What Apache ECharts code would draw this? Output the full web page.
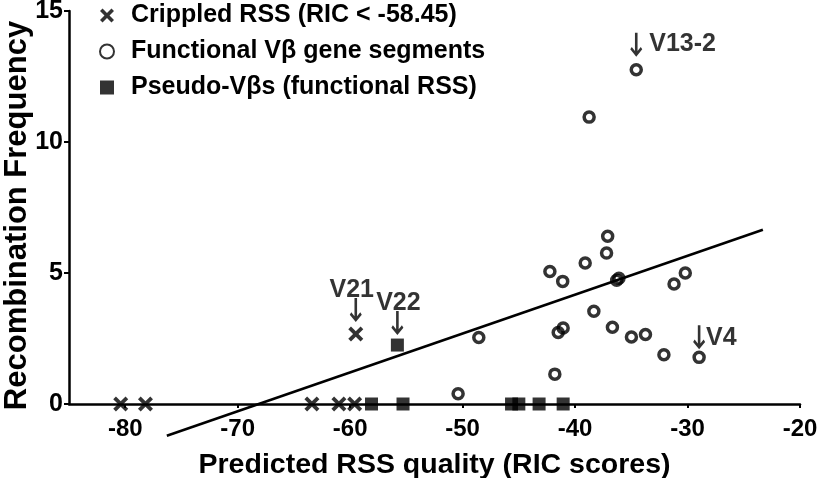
<!DOCTYPE html>
<html>
<head>
<meta charset="utf-8">
<script src="https://cdn.jsdelivr.net/npm/echarts@6/dist/echarts.min.js"></script>
<style>html,body{margin:0;padding:0;background:#fff}#c{width:819px;height:478px}</style>
</head>
<body>
<div id="c"></div>
<script>
// ---- data ----
const xTicks = [-80, -70, -60, -50, -40, -30, -20];
const yTicks = [0, 5, 10, 15];

const crippledName = 'Crippled RSS (RIC < -58.45)';
const crippledX = [-80.4, -78.2, -63.4, -61.0, -59.6, -59.5];
const crippledY = [0, 0, 0, 0, 0, 2.67];

const functionalName = 'Functional Vβ gene segments';
const functionalX = [-50.4, -48.56, -42.24, -41.8, -41.5, -41.1, -41.06, -39.1, -38.75, -38.33, -37.2, -37.1, -36.68, -36.3, -36.1, -34.99, -34.56, -33.74, -32.1, -31.2, -30.2, -28.97];
const functionalY = [0.39, 2.54, 5.06, 1.14, 2.73, 4.68, 2.9, 5.38, 10.95, 3.54, 5.76, 6.40, 2.93, 4.72, 4.80, 2.56, 12.76, 2.65, 1.88, 4.58, 5.0, 1.78];

const pseudoName = 'Pseudo-Vβs (functional RSS)';
const pseudoX = [-58.1, -55.8, -55.3, -45.65, -45.0, -43.2, -41.06];
const pseudoY = [0, 2.25, 0, 0, 0, 0, 0];

const fitX = [-76.3, -23.3];
const fitY = [-1.21, 6.65];

const annotNames = ['V13-2', 'V21', 'V22', 'V4'];
const annotX = [-34.56, -59.5, -55.8, -28.97];
const annotY = [12.76, 2.67, 2.25, 1.78];

// ---- chart ----
const zip = (xs, ys) => xs.map((x, i) => [x, ys[i]]);
const FONT = '"Liberation Sans", Arial, sans-serif';
const chart = echarts.init(document.getElementById('c'), null, {renderer: 'canvas'});

const crossPath = 'path://M0,1.8L1.8,0L5,3.2L8.2,0L10,1.8L6.8,5L10,8.2L8.2,10L5,6.8L1.8,10L0,8.2L3.2,5Z';
const arrowPath = 'path://M4.7,0L7.3,0L7.3,18.2L10.5,14.2L12,16.6L6,24L0,16.6L1.5,14.2L4.7,18.2Z';
const annotLayout = {
  'V13-2': {side: 'right', off: -25, dist: 7, shift: [0, -1]},
  'V21': {side: 'top', off: -24, dist: 0, shift: [-4, 5]},
  'V22': {side: 'top', off: -22, dist: 0, shift: [1, 5]},
  'V4': {side: 'right', off: -20, dist: 1, shift: [0, 1]}
};

const annotData = annotNames.map((n, i) => {
  const L = annotLayout[n];
  return {
    name: n,
    value: [annotX[i], annotY[i]],
    symbolOffset: [0, L.off],
    label: {
      show: true,
      formatter: n,
      position: L.side,
      distance: L.dist,
      offset: L.shift
    }
  };
});

const boldText = {fontFamily: FONT, fontWeight: 'bold', color: '#000'};

const option = {
  animation: false,
  backgroundColor: '#fff',
  grid: {left: 69, right: 19, top: 11, bottom: 74, outerBoundsMode: 'none', containLabel: false},
  legend: {
    orient: 'vertical',
    left: 99,
    top: 0,
    padding: [3, 0, 0, 0],
    itemGap: 11,
    itemWidth: 14,
    itemHeight: 14,
    data: [crippledName, functionalName, pseudoName],
    textStyle: Object.assign({fontSize: 25, padding: [0, 0, 0, 12]}, boldText)
  },
  xAxis: {
    type: 'value', min: -85, max: -20,
    name: 'Predicted RSS quality (RIC scores)',
    nameLocation: 'middle', nameGap: 47,
    nameTextStyle: Object.assign({fontSize: 28.5}, boldText),
    axisLine: {show: true, lineStyle: {color: '#000', width: 2.5}},
    axisTick: {show: true, length: 4, customValues: xTicks, lineStyle: {color: '#000', width: 2}},
    axisLabel: Object.assign({customValues: xTicks, margin: 13, fontSize: 24}, boldText),
    splitLine: {show: false}
  },
  yAxis: {
    type: 'value', min: 0, max: 15, interval: 5,
    name: 'Recombination Frequency',
    nameLocation: 'middle', nameGap: 36, nameMoveOverlap: false,
    nameTextStyle: Object.assign({fontSize: 31, padding: [0, 16, 0, 0]}, boldText),
    axisLine: {show: true, lineStyle: {color: '#000', width: 2.5}},
    axisTick: {show: true, length: 5, customValues: yTicks, lineStyle: {color: '#000', width: 2}},
    axisLabel: Object.assign({customValues: yTicks, margin: 6, fontSize: 25}, boldText),
    splitLine: {show: false}
  },
  series: [
    {
      name: 'fit', type: 'line', data: zip(fitX, fitY), clip: false, symbol: 'none',
      lineStyle: {color: '#000', width: 2.5}, silent: true, z: 1
    },
    {
      name: crippledName, type: 'scatter', data: zip(crippledX, crippledY), clip: false,
      symbol: crossPath, symbolSize: 15,
      itemStyle: {color: '#000'}, z: 3
    },
    {
      name: functionalName, type: 'scatter', data: zip(functionalX, functionalY), clip: false,
      symbol: 'circle', symbolSize: 10,
      itemStyle: {color: 'rgba(0,0,0,0)', borderColor: '#000', borderWidth: 3.5}, z: 3
    },
    {
      name: pseudoName, type: 'scatter', data: zip(pseudoX, pseudoY), clip: false,
      symbol: 'rect', symbolSize: 13,
      itemStyle: {color: '#000'}, z: 3
    },
    {
      name: 'annotations', type: 'scatter', data: annotData, clip: false, silent: true,
      symbol: arrowPath, symbolSize: [12, 24],
      itemStyle: {color: '#000'},
      label: Object.assign({fontSize: 25}, boldText),
      z: 4
    }
  ]
};
chart.setOption(option);
</script>
</body>
</html>
